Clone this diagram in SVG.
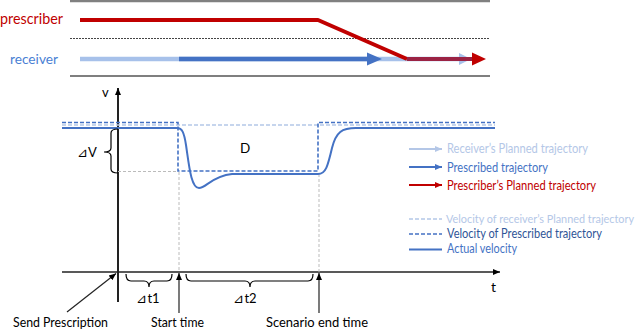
<svg xmlns="http://www.w3.org/2000/svg" width="640" height="331" viewBox="0 0 640 331">
<defs>
<style>
text{font-family:Lato,"Liberation Sans",sans-serif}
.lbl{font-size:12.5px}
.blk{fill:#000}
.axis{stroke:#222;fill:none}
.gdash{stroke:#bbbbbb;stroke-width:1;stroke-dasharray:3 2;fill:none}
.ldash{stroke:#b4c7e7;stroke-width:1.6;stroke-dasharray:4 2;fill:none}
.ddash{stroke:#4472c4;stroke-width:1.6;stroke-dasharray:4 2;fill:none}
.act{stroke:#4472c4;stroke-width:2;fill:none}
.brace{stroke:#000;stroke-width:1.2;fill:none}
</style>
<marker id="ak" markerWidth="8" markerHeight="8" refX="7" refY="4" orient="auto" markerUnits="userSpaceOnUse"><path d="M0,1 L7,4 L0,7 Z" fill="#000"/></marker>
<marker id="al" markerWidth="8" markerHeight="8" refX="7" refY="4" orient="auto" markerUnits="userSpaceOnUse"><path d="M0,1 L7,4 L0,7 Z" fill="#b4c7e7"/></marker>
<marker id="ab" markerWidth="8" markerHeight="8" refX="7" refY="4" orient="auto" markerUnits="userSpaceOnUse"><path d="M0,1 L7,4 L0,7 Z" fill="#4472c4"/></marker>
<marker id="ar" markerWidth="8" markerHeight="8" refX="7" refY="4" orient="auto" markerUnits="userSpaceOnUse"><path d="M0,1 L7,4 L0,7 Z" fill="#c00000"/></marker>
</defs>
<rect width="640" height="331" fill="#fff"/>

<g id="timeline">
<line x1="70" y1="1" x2="490" y2="1" stroke="#808080" stroke-width="2.5"/>
<line x1="70" y1="38.5" x2="490" y2="38.5" stroke="#444" stroke-width="1" stroke-dasharray="2 1"/>
<line x1="70" y1="76" x2="490" y2="76" stroke="#000" stroke-width="1.2"/>
<text x="0" y="24" font-size="14.5" fill="#c00000" textLength="63" lengthAdjust="spacingAndGlyphs">prescriber</text>
<text x="10" y="63.5" font-size="14" fill="#4a7fd4" textLength="48" lengthAdjust="spacingAndGlyphs">receiver</text>
</g>

<g id="receiver-planned">
<line x1="80" y1="59" x2="461" y2="59" stroke="#a7c1ea" stroke-width="4.5"/>
<polygon points="459,53 471,59 459,65" fill="#a7c1ea"/>
</g>
<g id="prescribed">
<line x1="179" y1="59" x2="369" y2="59" stroke="#4472c4" stroke-width="4.5"/>
<polygon points="367,52.5 382,59 367,65.5" fill="#4472c4"/>
</g>
<g id="prescriber-planned">
<polyline points="80,20 318,20 407,59" fill="none" stroke="#c00000" stroke-width="4" stroke-linejoin="round"/>
<line x1="407" y1="59" x2="474" y2="59" stroke="#9b2344" stroke-width="4"/>
<polygon points="472,52.5 486,59 472,65.5" fill="#c00000"/>
</g>

<g id="axes">
<line class="axis" x1="118" y1="302" x2="118" y2="88" stroke-width="2" marker-end="url(#ak)"/>
<line class="axis" x1="62" y1="272" x2="500" y2="272" stroke-width="1.5" marker-end="url(#ak)"/>
<text x="102" y="97" font-size="13" class="blk">v</text>
<text x="491" y="292" font-size="14" class="blk">t</text>
</g>

<g id="guides">
<line class="gdash" x1="118" y1="171.5" x2="178" y2="171.5"/>
<line class="gdash" x1="179" y1="172" x2="179" y2="272"/>
<line class="gdash" x1="319" y1="174" x2="319" y2="272"/>
</g>

<g id="velocity">
<line class="ldash" x1="62" y1="125" x2="495" y2="125"/>
<polyline class="ddash" points="62,122.5 178,122.5 178,171 318,171 318,122.5 495,122.5"/>
<path class="act" d="M62,128 L177,128 C182,128 184,132 186,145 C189,165 191,188 199,188 C206,188 212,176 232,174 L318,174 C326,174 328,165 332,148 C336,132 342,128 356,128 L495,128"/>
</g>

<g id="dv">
<path class="brace" d="M118,129 Q111,129 111,133 L111,148 Q111,152 104,152 Q111,152 111,156 L111,169 Q111,173 118,173"/>
<text x="77" y="157" font-size="13" class="blk">⊿V</text>
<text x="240" y="153" font-size="13.5" class="blk">D</text>
</g>

<g id="dt">
<path class="brace" d="M126,274 Q126,281 131,281 L144,281 Q149,281 149,287 Q149,281 154,281 L167,281 Q172,281 172,274"/>
<path class="brace" d="M186,274 Q186,281 191,281 L245,281 Q250,281 250,287 Q250,281 255,281 L308,281 Q313,281 313,274"/>
<text x="148" y="303" font-size="13" text-anchor="middle" class="blk">⊿t1</text>
<text x="245" y="303" font-size="13" text-anchor="middle" class="blk">⊿t2</text>
</g>

<g id="connectors">
<line class="axis" x1="67" y1="312" x2="116" y2="273.5" stroke-width="1.2" marker-end="url(#ak)"/>
<line class="axis" x1="179" y1="313" x2="179" y2="273" stroke-width="1.2" marker-end="url(#ak)"/>
<line class="axis" x1="319" y1="313" x2="319" y2="273" stroke-width="1.2" marker-end="url(#ak)"/>
</g>

<g id="events">
<text x="13" y="327" class="lbl blk" textLength="95" lengthAdjust="spacingAndGlyphs">Send Prescription</text>
<text x="151" y="327" class="lbl blk" textLength="53" lengthAdjust="spacingAndGlyphs">Start time</text>
<text x="266" y="327" class="lbl blk" textLength="102" lengthAdjust="spacingAndGlyphs">Scenario end time</text>
</g>

<g id="legend">
<line x1="409" y1="149" x2="442" y2="149" stroke="#b4c7e7" stroke-width="2" marker-end="url(#al)"/>
<text x="447" y="153" class="lbl" fill="#b4c7e7" textLength="141" lengthAdjust="spacingAndGlyphs">Receiver’s Planned trajectory</text>
<line x1="409" y1="167" x2="442" y2="167" stroke="#4472c4" stroke-width="2" marker-end="url(#ab)"/>
<text x="447" y="171.5" class="lbl" fill="#4472c4" textLength="101" lengthAdjust="spacingAndGlyphs">Prescribed trajectory</text>
<line x1="409" y1="185" x2="442" y2="185" stroke="#c00000" stroke-width="2" marker-end="url(#ar)"/>
<text x="447" y="190" class="lbl" fill="#c00000" textLength="149" lengthAdjust="spacingAndGlyphs">Prescriber’s Planned trajectory</text>
<line class="ldash" x1="409" y1="219" x2="442" y2="219"/>
<text x="446" y="223" font-size="11" fill="#b4c7e7" textLength="188" lengthAdjust="spacingAndGlyphs">Velocity of receiver’s Planned trajectory</text>
<line class="ddash" x1="409" y1="234" x2="442" y2="234" stroke="#2f5597"/>
<text x="447" y="238" class="lbl" fill="#2f5597" textLength="155" lengthAdjust="spacingAndGlyphs">Velocity of Prescribed trajectory</text>
<line class="act" x1="409" y1="249.5" x2="442" y2="249.5"/>
<text x="447" y="253" class="lbl" fill="#4472c4" textLength="70" lengthAdjust="spacingAndGlyphs">Actual velocity</text>
</g>
</svg>
